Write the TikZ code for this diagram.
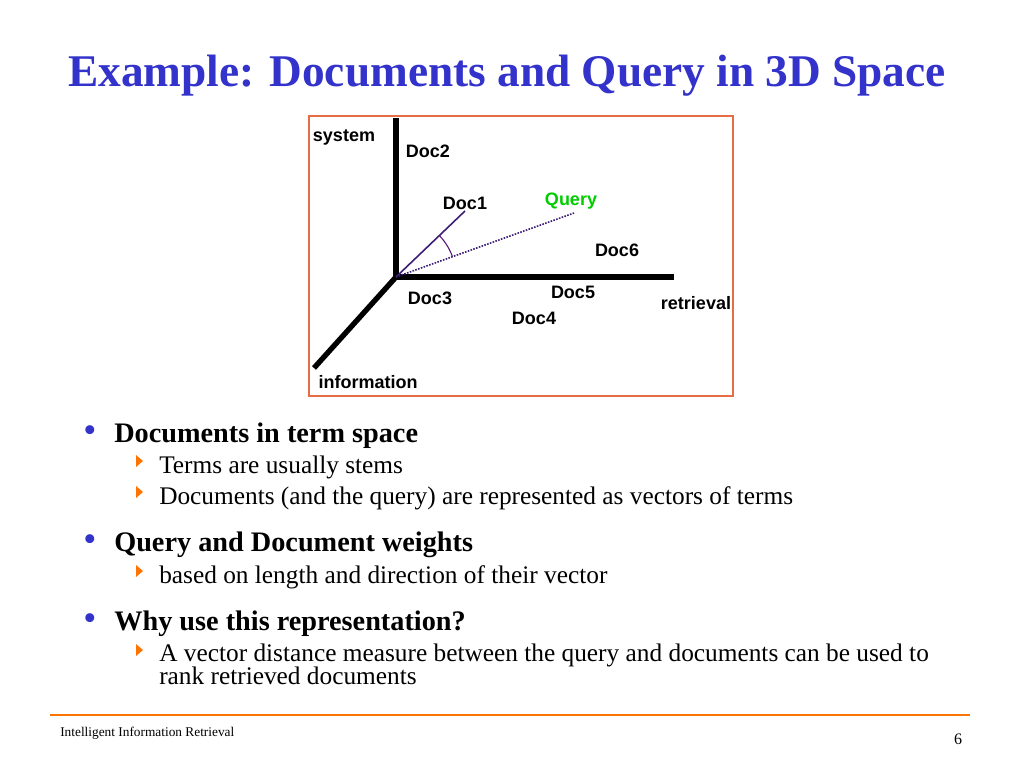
\documentclass[tikz,border=0pt]{standalone}
\usepackage{fontspec}
\setmainfont{Liberation Serif}
\newfontfamily\arialf{Liberation Sans}
\begin{document}
\begin{tikzpicture}[x=0.75pt,y=-0.75pt,
  lab/.style={font=\arialf\bfseries\fontsize{13.5}{15}\selectfont,inner sep=0pt},
  head/.style={anchor=base west,inner sep=0pt,font=\bfseries\fontsize{21.2}{24}\selectfont},
  sub/.style={anchor=base west,inner sep=0pt,font=\fontsize{19}{20}\selectfont},
  bul/.style={anchor=base,inner sep=0pt,text=titleblue,font=\fontsize{28}{30}\selectfont},
  tri/.style={fill=orange!90!red,draw=none},
  axis/.style={line width=4pt}]
\definecolor{titleblue}{RGB}{51,51,204}
\definecolor{frameo}{RGB}{230,110,70}
\definecolor{vec}{RGB}{60,30,120}
\useasboundingbox (0,0) rectangle (1024,768);
\fill[white] (0,0) rectangle (1024,768);
\node[font=\bfseries\fontsize{34}{36}\selectfont,text=titleblue,anchor=base] (title) at (507,86) {Example: Documents and Query in 3D Space};
% figure
\draw[frameo,line width=0.8pt] (309,116) rectangle (733,396);
\coordinate (o) at (396,277);
\coordinate (sys) at (396,118);
\coordinate (ret) at (674,277);
\coordinate (inf) at (314,368);
\coordinate (d1) at (465,211);
\coordinate (q) at (574,213);
\draw[axis] (o) -- (sys);
\draw[axis] (o) -- (ret);
\draw[axis] (o) -- (inf);
\draw[vec,line width=1.2pt] (o) -- (d1);
\draw[vec,line width=1.2pt,densely dotted] (o) -- (q);
\draw[vec!60!violet,line width=0.8pt] (o) ++(-44:60) arc[start angle=-44,end angle=-20,radius=60];
\node[lab] (lsys) at (344,137) {system};
\node[lab] (ld2) at (428,151) {Doc2};
\node[lab] (ld1) at (465,203) {Doc1};
\node[lab,text=green!80!black] (lq) at (571,201) {Query};
\node[lab] (ld6) at (617,250) {Doc6};
\node[lab] (ld3) at (430,298) {Doc3};
\node[lab] (ld5) at (573,292) {Doc5};
\node[lab] (ld4) at (534,318) {Doc4};
\node[lab] (lret) at (696,303) {retrieval};
\node[lab] (linf) at (368,382) {information};
% bullets
\node[bul] (b1) at (90,442) {•};
\node[head] (h1) at (114,442) {Documents in term space};
\fill[tri] (136,455) -- (143,461) -- (136,467) -- cycle;
\node[sub] (s1) at (159,473) {Terms are usually stems};
\fill[tri] (136,486) -- (143,492) -- (136,498) -- cycle;
\node[sub] (s2) at (159,504) {Documents (and the query) are represented as vectors of terms};
\node[bul] (b2) at (90,551) {•};
\node[head] (h2) at (114,551) {Query and Document weights};
\fill[tri] (136,565) -- (143,571) -- (136,577) -- cycle;
\node[sub] (s3) at (159,583) {based on length and direction of their vector};
\node[bul] (b3) at (90,630) {•};
\node[head] (h3) at (114,630) {Why use this representation?};
\fill[tri] (136,644) -- (143,650) -- (136,656) -- cycle;
\node[sub] (s4) at (159,661) {A vector distance measure between the query and documents can be used to};
\node[sub] (s5) at (159,684) {rank retrieved documents};
% footer
\draw[orange!90!red,line width=1pt] (50,715) -- (970,715);
\node[anchor=base west,inner sep=0pt,font=\fontsize{10}{12}\selectfont] (ft) at (60,736) {Intelligent Information Retrieval};
\node[anchor=base,inner sep=0pt,font=\fontsize{12}{14}\selectfont] (pg) at (958,744) {6};
\end{tikzpicture}
\end{document}
